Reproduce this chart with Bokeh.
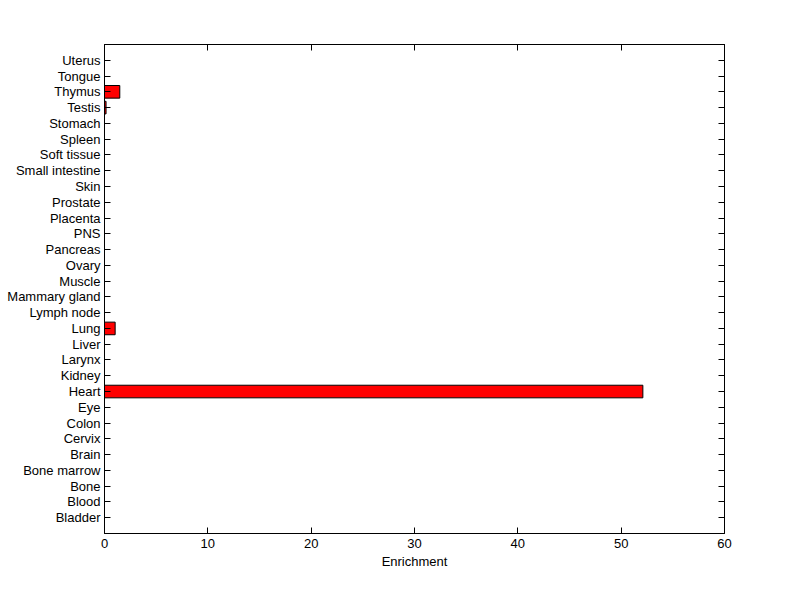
from bokeh.plotting import figure
from bokeh.models import LinearAxis, FixedTicker, Range1d, ColumnDataSource
from bokeh.embed import file_html
from bokeh.resources import INLINE

tissues = ["Bladder", "Blood", "Bone", "Bone marrow", "Brain", "Cervix", "Colon", "Eye",
           "Heart", "Kidney", "Larynx", "Liver", "Lung", "Lymph node", "Mammary gland",
           "Muscle", "Ovary", "Pancreas", "PNS", "Placenta", "Prostate", "Skin",
           "Small intestine", "Soft tissue", "Spleen", "Stomach", "Testis", "Thymus",
           "Tongue", "Uterus"]
enrichment = [0, 0, 0, 0, 0, 0, 0, 0,
              52.1, 0, 0, 0, 1.03, 0, 0,
              0, 0, 0, 0, 0, 0, 0,
              0, 0, 0, 0, 0.15, 1.48,
              0, 0]
x_ticks = [0, 10, 20, 30, 40, 50, 60]

pos = list(range(1, len(tissues) + 1))
src = ColumnDataSource(dict(y=pos, right=enrichment))

FONT = "Liberation Sans"
FS = "13px"

p = figure(width=792, height=591, output_backend="svg", toolbar_location=None,
           x_range=Range1d(0, 60), y_range=Range1d(0, len(tissues) + 1),
           min_border_left=104, min_border_right=68, min_border_top=44, min_border_bottom=58,
           x_axis_location=None, y_axis_location=None)
p.xgrid.visible = False
p.ygrid.visible = False
p.outline_line_color = "black"
p.outline_line_width = 1
p.background_fill_color = "white"
p.border_fill_color = "white"

p.hbar(y="y", right="right", left=0, height=0.8, source=src,
       fill_color="#ff0000", line_color="black", line_width=1)

def style(ax):
    ax.axis_line_color = "black"
    ax.major_tick_line_color = "black"
    ax.major_tick_in = 6
    ax.major_tick_out = 0
    ax.minor_tick_line_color = None
    ax.major_label_text_font = FONT
    ax.major_label_text_font_size = FS
    ax.major_label_text_color = "black"
    ax.axis_label_text_font = FONT
    ax.axis_label_text_font_size = FS
    ax.axis_label_text_font_style = "normal"
    ax.axis_label_text_color = "black"

xb = LinearAxis(ticker=FixedTicker(ticks=x_ticks), axis_label="Enrichment")
style(xb)
xb.major_label_standoff = 5
xb.axis_label_standoff = 3
p.add_layout(xb, "below")

xt = LinearAxis(ticker=FixedTicker(ticks=x_ticks))
style(xt)
xt.major_label_text_font_size = "0px"
xt.major_label_text_color = None
p.add_layout(xt, "above")

yl = LinearAxis(ticker=FixedTicker(ticks=pos),
                major_label_overrides={i: t for i, t in zip(pos, tissues)})
style(yl)
yl.major_label_standoff = 4
p.add_layout(yl, "left")

yr = LinearAxis(ticker=FixedTicker(ticks=pos))
style(yr)
yr.major_label_text_font_size = "0px"
yr.major_label_text_color = None
p.add_layout(yr, "right")

open("out.html", "w").write(file_html(p, INLINE))
